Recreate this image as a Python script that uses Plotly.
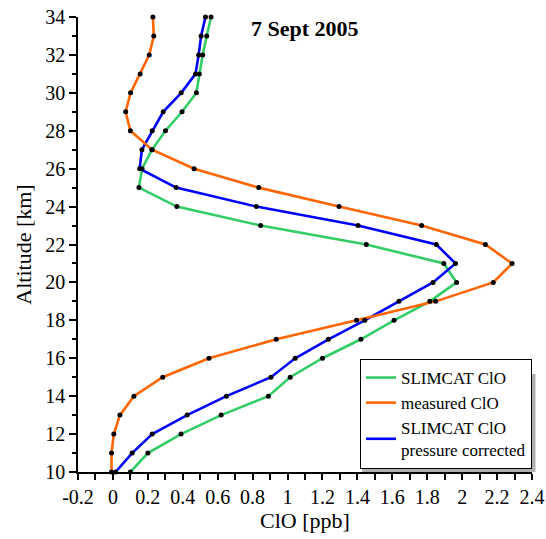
import plotly.graph_objects as go

# ---------------- data ----------------
altitude_km = [10, 11, 12, 13, 14, 15, 16, 17, 18, 19, 20, 21, 22,
               23, 24, 25, 26, 27, 28, 29, 30, 31, 32, 33, 34]

slimcat_clo = [0.10, 0.20, 0.39, 0.62, 0.89, 1.015, 1.20, 1.42, 1.61, 1.815,
               1.968, 1.895, 1.451, 0.846, 0.366, 0.149, 0.167, 0.224, 0.301,
               0.396, 0.478, 0.495, 0.514, 0.537, 0.562]

measured_clo = [-0.008, -0.008, 0.005, 0.04, 0.12, 0.285, 0.55, 0.935, 1.395,
                1.848, 2.178, 2.286, 2.133, 1.768, 1.295, 0.835, 0.465, 0.224,
                0.10, 0.073, 0.101, 0.156, 0.208, 0.234, 0.229]

slimcat_pc_clo = [0.015, 0.11, 0.225, 0.425, 0.65, 0.905, 1.044, 1.234, 1.442,
                  1.638, 1.833, 1.962, 1.852, 1.404, 0.821, 0.362, 0.153, 0.166,
                  0.225, 0.288, 0.391, 0.473, 0.491, 0.505, 0.53]

x_tick_vals = [-0.2, 0, 0.2, 0.4, 0.6, 0.8, 1.0, 1.2, 1.4, 1.6, 1.8, 2.0, 2.2, 2.4]
x_tick_text = ["-0.2", "0", "0.2", "0.4", "0.6", "0.8", "1", "1.2", "1.4",
               "1.6", "1.8", "2", "2.2", "2.4"]
y_tick_vals = [10, 12, 14, 16, 18, 20, 22, 24, 26, 28, 30, 32, 34]
y_tick_text = [str(v) for v in y_tick_vals]

series_names = ["SLIMCAT ClO", "measured ClO", "SLIMCAT ClO<br>pressure corrected"]
series_colors = ["#33cc66", "#ff6600", "#0000ff"]
series_values = [slimcat_clo, measured_clo, slimcat_pc_clo]

FONT = "Liberation Serif"

fig = go.Figure()

# lines (draw green, blue, then orange on top; legend order via legendrank)
draw_order = [0, 2, 1]
ranks = {0: 1, 1: 2, 2: 3}
for i in draw_order:
    fig.add_trace(go.Scatter(
        x=series_values[i], y=altitude_km, mode="lines",
        line=dict(color=series_colors[i], width=2.6),
        name=series_names[i], legendrank=ranks[i],
        cliponaxis=False,
    ))

# markers
for i in draw_order:
    fig.add_trace(go.Scatter(
        x=series_values[i], y=altitude_km, mode="markers",
        marker=dict(color="black", size=5),
        showlegend=False, cliponaxis=False, hoverinfo="skip",
    ))

fig.update_layout(
    width=546, height=539,
    margin=dict(l=78, r=14, t=17, b=67),
    paper_bgcolor="white", plot_bgcolor="white",
    font=dict(family=FONT, color="black", size=20),
    showlegend=True,
    legend=dict(
        x=1.0, y=0.0066, xanchor="right", yanchor="bottom",
        bgcolor="white", bordercolor="black", borderwidth=1,
        font=dict(family=FONT, size=17, color="black"),
        tracegroupgap=0, itemwidth=30,
    ),
    annotations=[dict(
        text="<b>7 Sept 2005</b>", x=0.5, y=0.974, xref="paper", yref="paper",
        xanchor="center", yanchor="middle", showarrow=False,
        font=dict(family=FONT, size=22, color="black"),
    )],
    shapes=[dict(
        type="rect", xref="paper", yref="paper", layer="above",
        x0=0.626, x1=1.0077, y0=0.0, y1=0.2154,
        fillcolor="#b0b0b0", line=dict(width=0),
    )],
)

fig.update_xaxes(
    automargin=False,
    range=[-0.2, 2.4], tickmode="array", tickvals=x_tick_vals, ticktext=x_tick_text,
    showline=True, linecolor="black", linewidth=1.5, mirror=False,
    ticks="outside", ticklen=6, tickwidth=1.5, tickcolor="black",
    minor=dict(dtick=0.1, tick0=-0.2, ticks="outside", ticklen=6, tickwidth=1.5, tickcolor="black"),
    showgrid=False, zeroline=False,
    tickfont=dict(family=FONT, size=20),
    title=dict(text="ClO [ppb]", font=dict(family=FONT, size=22), standoff=6),
)
fig.update_yaxes(
    automargin=False,
    range=[10, 34], tickmode="array", tickvals=y_tick_vals, ticktext=y_tick_text,
    showline=True, linecolor="black", linewidth=1.5, mirror=False,
    ticks="outside", ticklen=7, tickwidth=1.5, tickcolor="black",
    minor=dict(dtick=1, tick0=10, ticks="outside", ticklen=4, tickwidth=1.5, tickcolor="black"),
    showgrid=False, zeroline=False,
    tickfont=dict(family=FONT, size=20),
    title=dict(text="Altitude [km]", font=dict(family=FONT, size=22), standoff=8),
)

fig.write_html("out.html")
